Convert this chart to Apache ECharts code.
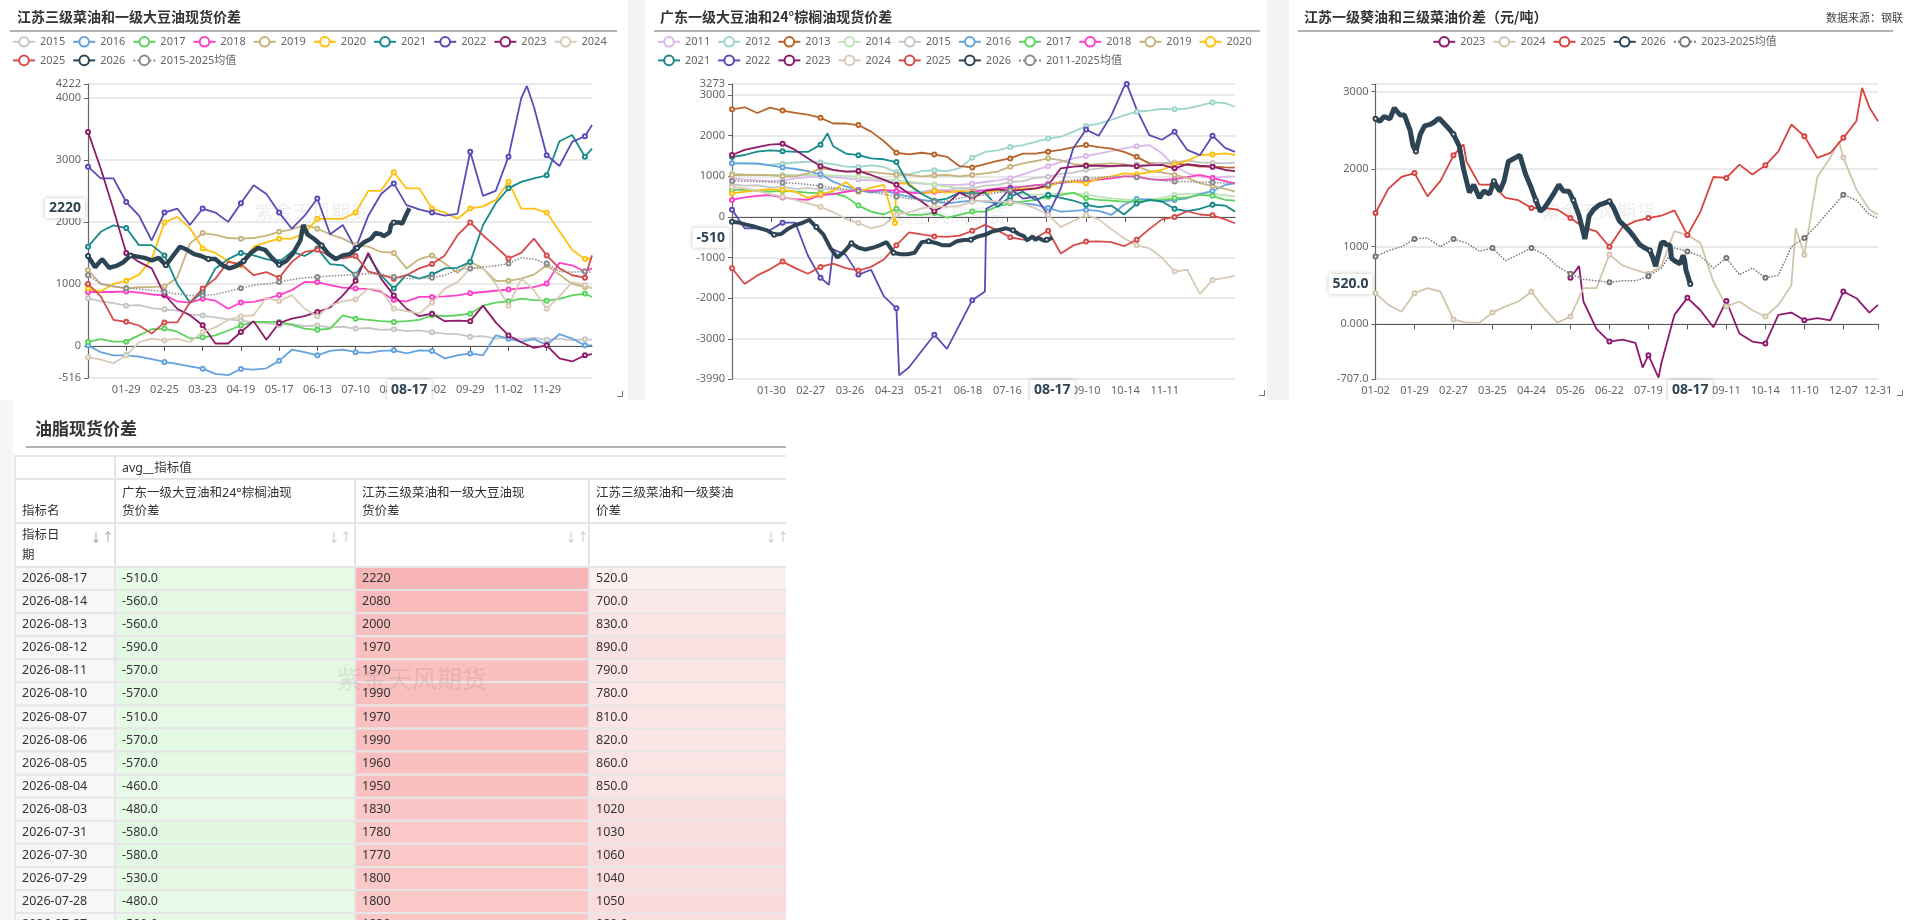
<!DOCTYPE html>
<html><head><meta charset="utf-8">
<script src="https://cdn.jsdelivr.net/npm/echarts@6/dist/echarts.min.js"></script>
<style>
html,body{margin:0;padding:0;background:#fff;width:1920px;height:920px;overflow:hidden;font-family:"Noto Sans","Noto Sans CJK SC",sans-serif;}
.abs{position:absolute;}
.uline{position:absolute;height:0;border-top:2px solid #b4b4b4;z-index:5;}
.corner{position:absolute;width:5px;height:5px;border-right:1.5px solid #777;border-bottom:1.5px solid #777;z-index:5;}
</style></head><body>
<div class="abs" style="left:0;top:0;width:1920px;height:400px;background:#f2f2f2"></div>
<div class="abs" style="left:0;top:400px;width:13px;height:520px;background:#f6f6f6"></div>
<div id="c1" class="abs" style="left:0;top:0;width:628px;height:400px;background:#fff"></div>
<div id="c2" class="abs" style="left:645px;top:0;width:622px;height:400px;background:#fff"></div>
<div id="c3" class="abs" style="left:1289px;top:0;width:631px;height:400px;background:#fff"></div>
<div id="t1" class="abs" style="left:13px;top:404px;width:773px;height:516px;background:#fff"></div>
<div class="uline" style="left:10px;top:30px;width:607px"></div>
<div class="uline" style="left:654px;top:30px;width:606px"></div>
<div class="uline" style="left:1298px;top:30px;width:595px"></div>
<div class="uline" style="left:26px;top:446px;width:760px"></div>
<div class="corner" style="left:617px;top:391px"></div>
<div class="corner" style="left:1259px;top:390px"></div>
<div class="corner" style="left:1897px;top:390px"></div>
<script>
// ---------------- categories (month-day axis) ----------------
const excl1 = ['01-01','05-01','10-01','10-02','10-03','10-04','10-05','10-06','10-07'];
const excl2 = ['01-01','10-01','10-02','10-03','10-04','10-05','10-06'];
const excl3 = ['01-01','02-10','02-11','04-04','04-05','04-06','05-01','05-02','05-03','05-04','05-05','10-01','10-02','10-03','10-04','10-05','10-06'];
function buildCats(excl){
  const md=[31,29,31,30,31,30,31,31,30,31,30,31], out=[];
  for(let m=1;m<=12;m++)for(let d=1;d<=md[m-1];d++){
    const s=String(m).padStart(2,'0')+'-'+String(d).padStart(2,'0');
    if(!excl.includes(s))out.push(s);
  }
  return out;
}
const cats1 = buildCats(excl1), cats2 = buildCats(excl2), cats3 = buildCats(excl3);
const ticks1 = ['01-29','02-25','03-23','04-19','05-17','06-13','07-10','08-06','09-02','09-29','11-02','11-29'];
const ticks2 = ['01-30','02-27','03-26','04-23','05-21','06-18','07-16','08-13','09-10','10-14','11-11'];
const ticks3 = ['01-02','01-29','02-27','03-25','04-24','05-26','06-22','07-19','08-15','09-11','10-14','11-10','12-07','12-31'];

// ---------------- chart 1: 江苏三级菜油和一级大豆油现货价差 (values every 9 categories) ----------------
const rs2015 = [770,720,690,650,660,610,590,570,510,490,460,430,410,380,370,340,350,320,330,300,310,280,290,260,270,240,250,220,200,190,150,160,120,140,110,130,100,120,90,110,100];
const rs2016 = [10,-100,-150,-150,-170,-210,-258,-290,-330,-365,-450,-470,-370,-380,-360,-240,-60,-100,-150,-80,-60,-100,-110,-80,-70,-120,-70,-80,-200,-150,-120,-150,172,118,70,110,20,190,120,10,10];
const rs2017 = [65,110,70,70,170,270,280,230,120,140,170,250,330,387,387,387,340,280,260,280,495,440,420,400,387,400,420,495,480,495,520,650,700,720,763,740,730,760,815,845,790];
const rs2018 = [870,870,870,880,860,830,815,720,700,763,730,600,700,710,760,820,900,1030,1030,980,940,925,920,870,740,720,790,790,800,815,850,870,890,910,930,950,1005,1340,1300,1200,1250];
const rs2019 = [1220,1000,960,930,950,950,960,1100,1650,1820,1790,1740,1730,1740,1780,1840,1880,1950,1890,1800,1730,1625,1600,1515,1500,1250,1400,1460,1330,1180,1355,1250,1050,1050,1085,1150,1300,1150,1000,950,940];
const rs2020 = [925,880,1000,1050,1150,1400,1990,2080,1900,1570,1500,1370,1300,1600,1670,1730,1730,1820,2050,2050,2050,2150,2500,2500,2800,2540,2540,2215,2150,2050,2215,2250,2350,2645,2215,2215,2150,1850,1550,1400,1410];
const rs2021 = [1600,1840,1945,1900,1625,1625,1460,1000,700,870,1250,1400,1500,1460,1400,1355,1520,1450,1570,1320,1300,1140,1460,1140,925,1150,1085,1150,1250,1260,1355,1945,2300,2540,2645,2700,2750,3300,3400,3050,3180];
const rs2022 = [2890,2700,2700,2320,2100,1700,2150,2215,1950,2215,2150,2000,2300,2590,2450,2150,1890,2100,2376,1800,1950,1570,2100,2450,2620,2270,2200,2150,2100,2130,3130,2420,2500,3050,3990,3850,3075,2900,3290,3380,3560];
const rs2022Extra = [['11-15',4190]];
const rs2023 = [3450,2860,2200,1500,1355,1250,830,600,495,333,40,40,225,400,100,370,440,480,548,620,815,1050,1500,1085,815,600,480,520,400,410,400,650,380,170,60,-30,10,-200,-250,-150,-130];
const rs2024 = [-180,-220,-280,-150,60,118,90,118,60,225,300,420,480,495,780,720,820,600,480,650,720,750,925,900,600,560,520,700,925,1030,1250,1250,1000,650,1085,900,600,800,1030,980,925];
const rs2025 = [1000,800,420,390,330,200,380,380,700,925,1085,1355,1320,1140,1190,1100,1355,1515,1550,1450,1410,1450,1200,1150,1085,1140,1250,1320,1460,1785,1990,1785,1600,1410,1500,1730,1460,1250,1140,1100,1460];
const rsAvg = [1140,1000,960,930,920,900,870,840,815,815,830,880,930,980,1000,1030,1070,1100,1110,1130,1140,1150,1165,1150,1110,1090,1085,1100,1140,1230,1250,1275,1290,1330,1420,1400,1330,1200,1190,1200,1190];
const rs2026 = [['01-02',1450],['01-07',1270],['01-12',1400],['01-17',1260],['01-22',1290],['01-27',1350],['02-01',1460],['02-06',1440],['02-11',1420],['02-16',1380],['02-21',1420],['02-26',1300],['03-02',1450],['03-07',1600],['03-12',1550],['03-17',1480],['03-22',1450],['03-27',1400],['04-01',1400],['04-06',1300],['04-11',1250],['04-16',1290],['04-21',1370],['04-26',1500],['05-02',1580],['05-07',1550],['05-12',1420],['05-17',1310],['05-22',1370],['05-27',1500],['06-01',1700],['06-03',1950],['06-06',1800],['06-11',1720],['06-16',1620],['06-21',1480],['06-26',1400],['07-01',1460],['07-06',1480],['07-11',1580],['07-16',1670],['07-21',1730],['07-24',1820],['07-28',1800],['07-29',1800],['07-30',1770],['07-31',1780],['08-03',1830],['08-04',1950],['08-05',1960],['08-06',1990],['08-07',1970],['08-10',1990],['08-11',1970],['08-12',1970],['08-13',2000],['08-14',2080],['08-17',2220]];

// ---------------- chart 2: 广东一级大豆油和24°棕榈油现货价差 ----------------
const ps2011 = [950,920,900,880,900,950,980,1000,980,950,920,900,880,850,840,820,800,790,787,820,860,900,950,1050,1150,1250,1350,1443,1500,1560,1620,1690,1740,1770,1566,1250,1080,1000,960,990,1000];
const ps2012 = [1320,1320,1300,1280,1310,1340,1360,1340,1300,1240,1230,1270,1230,1100,1050,1130,1150,1130,1200,1460,1600,1640,1720,1770,1850,1930,1975,2100,2240,2300,2390,2500,2590,2620,2660,2650,2670,2740,2820,2800,2713];
const ps2013 = [2650,2700,2560,2690,2620,2560,2520,2440,2300,2300,2262,2100,1870,1580,1540,1580,1540,1480,1250,1220,1300,1380,1440,1560,1560,1607,1650,1720,1770,1720,1680,1600,1480,1320,1320,1320,1280,1240,1240,1220,1213];
const ps2014 = [1074,1050,1040,1033,1033,1033,1033,1033,1020,1010,992,950,920,900,869,830,790,750,705,680,650,623,600,560,541,560,582,582,560,500,459,430,418,430,470,541,570,582,560,540,500];
const ps2015 = [800,770,780,730,740,690,710,680,690,650,660,610,620,590,630,620,670,660,710,700,770,790,860,880,960,990,1060,1090,1160,1190,1240,1250,1290,1280,1330,1340,1390,1340,1330,1320,1340];
const ps2016 = [1320,1320,1320,1270,1220,1180,1130,1050,870,750,664,600,664,560,500,418,377,336,370,400,377,340,400,336,300,220,131,150,172,150,49,300,440,430,380,420,460,560,640,787,828];
const ps2017 = [664,664,640,623,640,623,600,582,582,500,280,131,60,200,49,49,100,-20,49,131,131,260,336,377,418,500,541,600,459,418,400,377,377,400,420,459,480,541,520,418,400];
const ps2018 = [420,480,520,540,480,440,420,540,560,620,660,640,664,640,600,582,620,620,630,623,660,700,720,746,780,810,840,869,880,920,950,1000,1000,930,910,930,980,1033,960,880,828];
const ps2019 = [1033,1033,1033,1030,1000,1000,1070,1197,1150,1115,1115,1110,1074,1040,1030,1000,1020,1033,1000,1033,1074,1115,1238,1320,1377,1443,1400,1300,1280,1300,1320,1300,1250,1130,1100,1033,960,830,760,690,623];
const ps2020 = [580,620,660,680,664,620,470,560,640,860,620,720,790,820,830,560,640,600,640,600,582,660,664,700,700,746,869,870,830,950,1000,1074,1050,1100,1156,1300,1380,1525,1540,1566,1525];
const ps2020Extra = [['04-27',-150]];
const ps2021 = [1480,1525,1607,1640,1620,1600,1600,1780,1740,1560,1520,1440,1420,1350,780,570,400,450,600,570,600,250,500,623,420,541,470,400,300,240,280,60,330,420,380,200,140,200,300,280,131];
const ps2021Extra = [['03-10',2060]];
const ps2022 = [180,-280,-280,-330,-140,-140,-950,-1500,-800,-934,-1420,-1300,-1950,-2250,-3700,-3300,-2900,-3250,-2650,-2050,-1836,350,700,450,500,49,700,1700,2150,2000,2500,3200,2650,2016,1900,2100,1650,1520,2000,1700,1600];
const ps2022Extra = [['03-11',-1670],['04-30',-3900],['07-01',200],['10-15',3270]];
const ps2023 = [1525,1650,1720,1780,1800,1650,1443,1250,1160,1115,1130,1033,920,790,570,380,140,320,600,450,640,680,640,664,705,780,1197,1238,1260,1260,1250,1270,1250,1270,1280,1197,1300,1260,1238,1156,1130];
const ps2024 = [740,700,650,560,500,420,336,250,120,-50,-150,-280,-200,60,120,213,260,250,270,377,400,380,370,320,213,49,-250,-100,49,-60,-300,-525,-700,-770,-1000,-1344,-1300,-1900,-1550,-1500,-1450];
const ps2025 = [-1262,-1650,-1440,-1290,-1100,-1260,-1400,-1230,-1150,-1260,-1320,-1230,-1050,-700,-380,-430,-480,-490,-460,-340,-197,-330,-500,-560,-520,-340,-900,-700,-607,-600,-620,-720,-560,-300,-60,0,140,60,40,-60,-156];
const psAvg = [885,880,869,860,840,828,800,760,720,680,640,610,560,500,450,420,380,390,460,520,541,600,660,746,780,787,860,900,940,970,992,1000,980,930,900,870,870,860,850,830,828];
const ps2026 = [['01-02',-120],['01-07',-140],['01-12',-190],['01-17',-230],['01-22',-280],['01-27',-330],['02-01',-440],['02-06',-420],['02-11',-290],['02-16',-200],['02-21',-150],['02-26',-70],['03-02',-250],['03-07',-430],['03-12',-760],['03-17',-1000],['03-22',-850],['03-27',-650],['04-01',-760],['04-06',-800],['04-11',-760],['04-16',-700],['04-21',-620],['04-26',-880],['05-01',-920],['05-06',-920],['05-11',-880],['05-16',-620],['05-21',-600],['05-26',-640],['05-31',-700],['06-05',-700],['06-10',-600],['06-15',-570],['06-20',-560],['06-25',-480],['06-30',-440],['07-05',-360],['07-10',-320],['07-15',-280],['07-20',-330],['07-24',-420],['07-28',-480],['07-29',-530],['07-30',-580],['07-31',-580],['08-03',-480],['08-04',-460],['08-05',-570],['08-06',-570],['08-07',-510],['08-10',-570],['08-11',-570],['08-12',-590],['08-13',-560],['08-14',-560],['08-17',-510]];

// ---------------- chart 3: 江苏一级葵油和三级菜油价差 ----------------
const sr2023 = [600,293,-60,-224,-200,-240,-400,-500,120,340,180,-40,300,-120,-224,-250,120,150,50,78,50,422,336,150,250];
const sr2023Start = '05-26';
const sr2023Extra = [['06-01',750],['07-15',-560],['07-26',-690]];
const sr2024 = [400,250,160,400,465,422,60,20,20,150,230,293,420,200,20,100,465,465,900,760,700,650,750,1200,1150,1050,552,230,293,180,100,250,500,896,1900,2150,2150,1740,1480,1414];
const sr2024Extra = [['11-04',1240],['12-04',2360]];
const sr2025 = [1435,1750,1900,1950,1650,1850,2180,2100,1802,1800,1629,1600,1500,1500,1480,1370,1250,1198,1000,1250,1330,1370,1400,1470,1150,1450,1900,1888,2060,1931,2050,2230,2577,2427,2146,2210,2405,2620,2800,2620];
const sr2025Extra = [['03-05',2320],['12-20',3050]];
const srAvg = [875,950,1000,1100,1112,1000,1100,1050,940,983,820,900,983,900,746,650,580,560,540,560,560,620,724,983,940,880,724,853,638,724,600,630,1000,1112,1284,1480,1672,1600,1414,1370];
const sr2026 = [['01-02',2650],['01-05',2620],['01-08',2680],['01-12',2650],['01-15',2790],['01-19',2700],['01-22',2700],['01-26',2500],['01-28',2300],['01-30',2230],['02-02',2450],['02-05',2560],['02-09',2580],['02-13',2600],['02-17',2660],['02-20',2600],['02-24',2520],['02-27',2450],['03-02',2300],['03-05',2000],['03-09',1700],['03-12',1800],['03-16',1629],['03-19',1720],['03-23',1680],['03-26',1845],['03-30',1715],['04-02',1845],['04-08',2100],['04-13',2150],['04-16',2180],['04-20',1931],['04-23',1800],['04-27',1600],['04-30',1457],['05-08',1500],['05-11',1586],['05-14',1672],['05-18',1800],['05-21',1720],['05-25',1715],['05-28',1600],['06-01',1400],['06-03',1250],['06-05',1100],['06-08',1400],['06-11',1480],['06-15',1540],['06-18',1560],['06-22',1586],['06-25',1500],['06-29',1330],['07-02',1280],['07-06',1200],['07-09',1130],['07-13',1026],['07-16',990],['07-20',950],['07-22',860],['07-24',750],['07-28',1050],['07-29',1040],['07-30',1060],['07-31',1030],['08-03',1020],['08-04',850],['08-05',860],['08-06',820],['08-07',810],['08-10',780],['08-11',790],['08-12',890],['08-13',830],['08-14',700],['08-17',520]];

// ---------------- table ----------------
const tableDates = ['2026-08-17','2026-08-14','2026-08-13','2026-08-12','2026-08-11','2026-08-10','2026-08-07','2026-08-06','2026-08-05','2026-08-04','2026-08-03','2026-07-31','2026-07-30','2026-07-29','2026-07-28','2026-07-27'];
const tabGdSoyPalm = [-510,-560,-560,-590,-570,-570,-510,-570,-570,-460,-480,-580,-580,-530,-480,-500];
const tabJsRapeSoy = [2220,2080,2000,1970,1970,1990,1970,1990,1960,1950,1830,1780,1770,1800,1800,1830];
const tabJsSunRape = [520,700,830,890,790,780,810,820,860,850,1020,1030,1060,1040,1050,980];

// ---------------- styling ----------------
const FONT = '"Noto Sans","Noto Sans CJK SC",sans-serif';
const C = {'2011':'#dab9ea','2012':'#9dd5cd','2013':'#b8652d','2014':'#bfe3b8','2015':'#c6c6c6','2016':'#64a3de','2017':'#5cd35c','2018':'#ff40c8','2019':'#c6b47f','2020':'#ffc10e','2021':'#188a8a','2022':'#5a4cb5','2023':'#8e1b68','2024':'#d8cab7','2025':'#d54c4c','2026':'#2c4454','avg':'#8a8a8a'};
const STEP = 9;

function stepPairs(vals, cats, start){
  const last = cats.length-1, s0 = start ? cats.indexOf(start) : 0, out=[];
  vals.forEach((v,k)=>{ if(v!=null) out.push([Math.min(s0+k*STEP,last), v]); });
  return out;
}
function datePairs(pairs, cats){ return pairs.map(p=>[cats.indexOf(p[0]),p[1]]).filter(p=>p[0]>=0); }
function merge(base, extra){
  const m=new Map(base.map(p=>[p[0],p[1]]));
  (extra||[]).forEach(p=>m.set(p[0],p[1]));
  return [...m.entries()].sort((a,b)=>a[0]-b[0]);
}
function withSymbols(pairs, tickStep){
  let prev=-1;
  return pairs.map(p=>{ const b=Math.floor(p[0]/tickStep); const show=b!==prev; prev=b; return {value:p, symbol: show?'emptyCircle':'none'}; });
}

function lineChart(id, o){
  const ch = echarts.init(document.getElementById(id));
  const cats = o.cats;
  const interval = (i,v)=>o.ticks.includes(v);
  const series = o.series.map(s=>{
    let pairs = s.dates ? datePairs(s.dates, cats) : stepPairs(s.vals, cats, s.start);
    if(s.extra) pairs = merge(pairs, datePairs(s.extra, cats));
    return {
      name:s.name, type:'line', data:withSymbols(pairs, o.tickStep), xAxisIndex:0, yAxisIndex:0,
      symbol:'emptyCircle', symbolSize:4, showSymbol:true, showAllSymbol:true,
      lineStyle:{color:s.color, width:s.width||1.8, type:s.dash||'solid'},
      itemStyle:{color:s.color, borderWidth:1},
      emphasis:{disabled:true}, z:s.z||2, animation:false
    };
  });
  const ptLabel = {show:true, backgroundColor:'#fff', color:'#2f4554', fontWeight:'bold', fontSize:14, fontFamily:FONT,
    padding:[3,4], borderRadius:2, shadowBlur:4, shadowColor:'rgba(0,0,0,0.25)'};
  const titles = [{text:o.title, left:o.titleLeft, top:10, padding:0, textStyle:{fontSize:14, fontWeight:'bold', color:'#333', fontFamily:'"Noto Sans CJK SC",sans-serif'}}];
  if(o.source) titles.push({text:o.source, right:17, top:12, padding:0, textStyle:{fontSize:11, fontWeight:'normal', color:'#444', fontFamily:'"Noto Sans CJK SC",sans-serif'}});
  ch.setOption({
    animation:false,
    textStyle:{fontFamily:FONT},
    title:titles,
    legend:Object.assign({top:36, padding:0, itemWidth:22, itemHeight:12, itemGap:7,
      textStyle:{color:'#666', fontSize:11, fontFamily:FONT}}, o.legend),
    grid:{left:o.grid[0], right:o.grid[1], top:84, bottom:o.grid[2]},
    xAxis:[
      {type:'category', data:cats, boundaryGap:false, position:'bottom',
       axisLine:{show:false, onZero:false}, axisTick:{show:false},
       axisLabel:{interval, color:'#666', fontSize:11, margin:6, fontFamily:FONT},
       splitLine:{show:false},
       axisPointer:{show:true, status:'show', value:cats.indexOf('08-17'), triggerTooltip:false, type:'line',
         lineStyle:{opacity:0}, label:Object.assign({}, ptLabel, {formatter:p=>typeof p.value==='number'?cats[p.value]:p.value, margin:2})}},
      {type:'category', data:cats, boundaryGap:false, position:'bottom',
       axisLine:{show:true, onZero:true, lineStyle:{color:'#555', width:1.2}},
       axisTick:{show:true, interval, length:5, lineStyle:{color:'#555'}},
       axisLabel:{show:false, interval}, splitLine:{show:false}}
    ],
    yAxis:{type:'value', min:o.y.min, max:o.y.max, splitNumber:o.y.split||5,
      axisLine:{show:true, lineStyle:{color:'#666', width:1.2}},
      axisTick:{show:true, length:4, lineStyle:{color:'#666'}},
      axisLabel:{color:'#666', fontSize:11, margin:7, fontFamily:FONT, formatter:o.y.fmt},
      splitLine:{lineStyle:{color:'#e3e3e3', width:1.5}},
      axisPointer:{show:true, status:'show', value:o.y.pointer, triggerTooltip:false, type:'line',
        lineStyle:{opacity:0}, label:Object.assign({}, ptLabel, {formatter:p=>o.y.pfmt(p.value)})}},
    graphic:[{type:'text', left:o.wm[0], top:o.wm[1], z:0, silent:true,
      style:{text:'紫金天风期货', fill:'rgba(0,0,0,0.07)', font:'19px "Noto Sans CJK SC"'}}],
    series
  });
}

lineChart('c1', {
  title:'江苏三级菜油和一级大豆油现货价差', titleLeft:17, cats:cats1, ticks:ticks1, tickStep:27,
  legend:{left:12, width:612}, grid:[88,36,22], wm:[255,202],
  y:{min:-516, max:4222, fmt:v=>String(v), pointer:2220, pfmt:v=>String(Math.round(v))},
  series:[
    {name:'2015', vals:rs2015, color:C['2015']},
    {name:'2016', vals:rs2016, color:C['2016']},
    {name:'2017', vals:rs2017, color:C['2017']},
    {name:'2018', vals:rs2018, color:C['2018']},
    {name:'2019', vals:rs2019, color:C['2019']},
    {name:'2020', vals:rs2020, color:C['2020']},
    {name:'2021', vals:rs2021, color:C['2021']},
    {name:'2022', vals:rs2022, extra:rs2022Extra, color:C['2022']},
    {name:'2023', vals:rs2023, color:C['2023']},
    {name:'2024', vals:rs2024, color:C['2024']},
    {name:'2025', vals:rs2025, color:C['2025']},
    {name:'2026', dates:rs2026, color:C['2026'], width:4.5, z:5},
    {name:'2015-2025均值', vals:rsAvg, color:C.avg, dash:'dotted', width:1.5}
  ]
});

lineChart('c2', {
  title:'广东一级大豆油和24°棕榈油现货价差', titleLeft:15, cats:cats2, ticks:ticks2, tickStep:28,
  legend:{left:12, width:608}, grid:[87,32,21], wm:[248,206],
  y:{min:-3990, max:3273, split:7, fmt:v=>String(v), pointer:-510, pfmt:v=>String(Math.round(v))},
  series:[
    {name:'2011', vals:ps2011, color:C['2011']},
    {name:'2012', vals:ps2012, color:C['2012']},
    {name:'2013', vals:ps2013, color:C['2013']},
    {name:'2014', vals:ps2014, color:C['2014']},
    {name:'2015', vals:ps2015, color:C['2015']},
    {name:'2016', vals:ps2016, color:C['2016']},
    {name:'2017', vals:ps2017, color:C['2017']},
    {name:'2018', vals:ps2018, color:C['2018']},
    {name:'2019', vals:ps2019, color:C['2019']},
    {name:'2020', vals:ps2020, extra:ps2020Extra, color:C['2020']},
    {name:'2021', vals:ps2021, extra:ps2021Extra, color:C['2021']},
    {name:'2022', vals:ps2022, extra:ps2022Extra, color:C['2022']},
    {name:'2023', vals:ps2023, color:C['2023']},
    {name:'2024', vals:ps2024, color:C['2024']},
    {name:'2025', vals:ps2025, color:C['2025']},
    {name:'2026', dates:ps2026, color:C['2026'], width:4, z:5},
    {name:'2011-2025均值', vals:psAvg, color:C.avg, dash:'dotted', width:1.5}
  ]
});

lineChart('c3', {
  title:'江苏一级葵油和三级菜油价差（元/吨）', titleLeft:15, source:'数据来源：钢联', cats:cats3, ticks:ticks3, tickStep:27,
  legend:{left:'center'}, grid:[86.5,42,21], wm:[252,202],
  y:{min:-707, max:3100, fmt:v=>(v>=3100?'':Number(v).toPrecision(4)), pointer:520, pfmt:v=>Number(v).toPrecision(4)},
  series:[
    {name:'2023', vals:sr2023, start:sr2023Start, extra:sr2023Extra, color:'#8d1a70'},
    {name:'2024', vals:sr2024, extra:sr2024Extra, color:'#d3c4ad'},
    {name:'2025', vals:sr2025, extra:sr2025Extra, color:'#d6443d'},
    {name:'2026', dates:sr2026, color:C['2026'], width:5, z:5},
    {name:'2023-2025均值', vals:srAvg, color:'#777', dash:'dotted', width:1.5}
  ]
});

// ---------------- table (custom series on pixel-unit value axes) ----------------
(function(){
  const W=773, H=516;
  const colEdges=[2,102,342,576,800];
  const headTops=[52,75,119,163], rowH=23.07;
  const rowTop=r=> r<3 ? headTops[r] : headTops[3]+(r-3)*rowH;
  const rowBot=r=> r<2 ? headTops[r+1] : rowTop(r+1);
  function hex(c){return [parseInt(c.slice(1,3),16),parseInt(c.slice(3,5),16),parseInt(c.slice(5,7),16)];}
  function mix(a,b,t){t=Math.max(0,Math.min(1,t));const A=hex(a),B=hex(b);return 'rgb('+A.map((x,i)=>Math.round(x+(B[i]-x)*t)).join(',')+')';}
  const fmt=v=>Number(v).toPrecision(4);
  const cells=[];
  const T=(text,dx,dy,extra)=>Object.assign({text,dx,dy},extra||{});
  cells.push({c:0,r:0,span:1,fill:'#fff',texts:[]});
  cells.push({c:1,r:0,span:3,fill:'#fff',texts:[T('avg__指标值',7,12)]});
  cells.push({c:0,r:1,span:1,fill:'#fff',texts:[T('指标名',7,32)]});
  const heads=[['广东一级大豆油和24°棕榈油现','货价差'],['江苏三级菜油和一级大豆油现','货价差'],['江苏三级菜油和一级葵油','价差']];
  heads.forEach((h,i)=>cells.push({c:i+1,r:1,span:1,fill:'#fff',texts:[T(h[0],7,14),T(h[1],7,32)]}));
  cells.push({c:0,r:2,span:1,fill:'#fff',texts:[T('指标日',7,12),T('期',7,32),T('↓↑',87,16,{color:'#999',align:'center',size:12})]});
  [225,222,188].forEach((dx,i)=>cells.push({c:i+1,r:2,span:1,fill:'#fff',texts:[T('↓↑',dx,16,{color:'#c4c4c4',align:'center',size:12})]}));
  tableDates.forEach((d,k)=>{
    const r=k+3, cy=rowH/2;
    cells.push({c:0,r,span:1,fill:'#f7f7f7',texts:[T(d,7,cy)]});
    const a=tabGdSoyPalm[k], b=tabJsRapeSoy[k], c=tabJsSunRape[k];
    cells.push({c:1,r,span:1,fill:mix('#e9fbe9','#e1f8e1',(-a-450)/150),texts:[T(fmt(a),7,cy)]});
    cells.push({c:2,r,span:1,fill:mix('#fbc9c9','#f8b5b5',(b-1750)/470),texts:[T(fmt(b),7,cy)]});
    cells.push({c:3,r,span:1,fill:mix('#fdf1f1','#fadcdc',(c-500)/560),texts:[T(fmt(c),7,cy)]});
  });
  function renderItem(params, api){
    const cell=cells[params.dataIndex];
    const p0=api.coord([colEdges[cell.c], rowTop(cell.r)]);
    const p1=api.coord([colEdges[cell.c+cell.span], rowBot(cell.r)]);
    const children=[{type:'rect', shape:{x:p0[0],y:p0[1],width:p1[0]-p0[0],height:p1[1]-p0[1]},
      style:{fill:cell.fill, stroke:'#e6e6e6', lineWidth:2}}];
    cell.texts.forEach(t=>children.push({type:'text', style:{text:t.text, x:p0[0]+t.dx, y:p0[1]+t.dy,
      fill:t.color||'#333', font:(t.size||12.5)+'px "Noto Sans","Noto Sans CJK SC",sans-serif',
      textAlign:t.align||'left', textVerticalAlign:'middle'}}));
    return {type:'group', children};
  }
  const ch=echarts.init(document.getElementById('t1'));
  ch.setOption({
    animation:false,
    title:{text:'油脂现货价差', left:22, top:16, padding:0, textStyle:{fontSize:17, fontWeight:'bold', color:'#333', fontFamily:'"Noto Sans CJK SC",sans-serif'}},
    grid:{left:0,right:0,top:0,bottom:0},
    xAxis:{type:'value', min:0, max:W, show:false},
    yAxis:{type:'value', min:0, max:H, inverse:true, show:false},
    graphic:[{type:'text', left:324, top:262, z:100, silent:true, style:{text:'紫金天风期货', fill:'rgba(0,0,0,0.08)', font:'25px "Noto Sans CJK SC"'}}],
    series:[{type:'custom', renderItem, data:cells.map(c=>[c.c,c.r]), clip:false, silent:true, animation:false}]
  });
})();
</script>
</body></html>
